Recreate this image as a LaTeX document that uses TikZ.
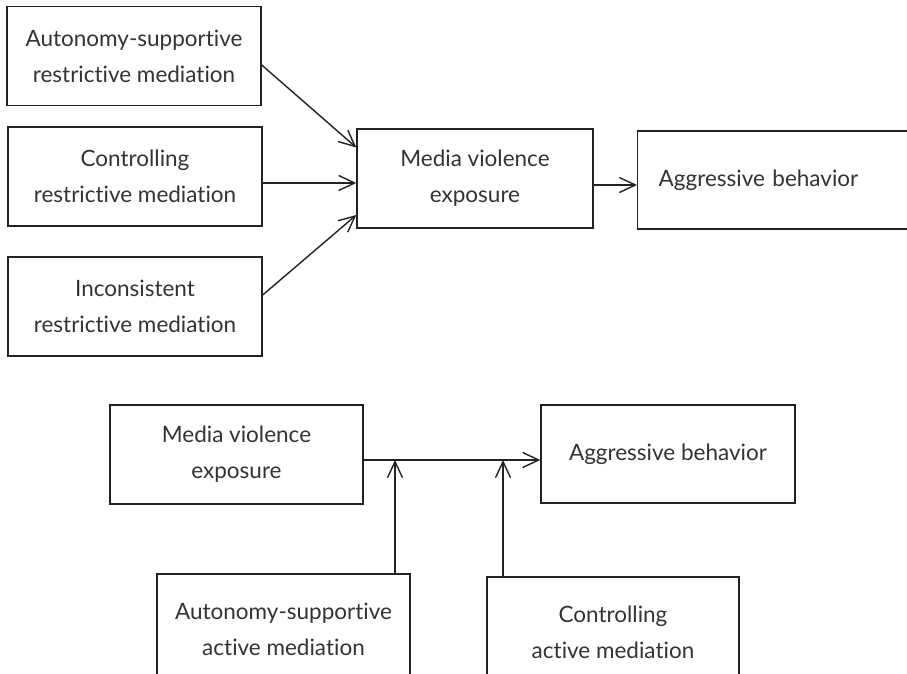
\documentclass[tikz,border=0pt]{standalone}
\usepackage{fontspec}
\setmainfont{Lato}[Ligatures={NoCommon,NoRare}]
\usetikzlibrary{arrows.meta}
\definecolor{ink}{HTML}{222222}
\definecolor{txt}{HTML}{333333}
\tikzset{
  box/.style={draw=ink, line width=1.4pt, align=center, text=txt,
    minimum width=254pt, minimum height=99pt, inner sep=0pt,
    font=\fontsize{22.5}{36}\selectfont},
  arr/.style={draw=ink, line width=1.4pt, -{Straight Barb[length=16pt,width=15pt,line width=1.4pt]}}
}
\begin{document}
\begin{tikzpicture}[x=1pt,y=-1pt]
        \clip (0,0) rectangle (907,674);

        % oberer Teil: restriktive Mediation
        \node[box] (a1) at (134,56) {Autonomy-supportive\\restrictive mediation};
        \node[box] (a2) at (135,176.5) {Controlling\\restrictive mediation};
        \node[box] (a3) at (135,306.5) {Inconsistent\\restrictive mediation};
        \node[box, minimum width=236pt] (mv) at (475,178.5) {Media violence\\exposure};
        \node[box, anchor=west, minimum width=0pt, text width=262pt, align=left,
          inner xsep=21pt, minimum height=98pt] (ag) at (637,180) {Aggressive behavior};

        \draw[arr] ([yshift=-9pt]a1.east) -- ([yshift=31pt]mv.west);
        \draw[arr] ([yshift=-6.5pt]a2.east) -- ([yshift=-4.5pt]mv.west);
        \draw[arr] ([yshift=11.5pt]a3.east) -- ([yshift=-36.5pt]mv.west);
        \draw[arr] ([yshift=-6.5pt]mv.east) -- ([yshift=-5pt]ag.west);

        % unterer Teil: aktive Mediation
        \node[box, minimum width=253pt] (mb) at (236.5,454.5) {Media violence\\exposure};
        \node[box, minimum height=98pt] (ab) at (668,454) {Aggressive behavior};
        \node[box, minimum width=253pt, minimum height=110pt] (as) at (283.5,629) {Autonomy-supportive\\active mediation};
        \node[box, minimum width=252pt, minimum height=110pt] (ca) at (613,632) {Controlling\\active mediation};

        \coordinate (j1) at (395,460);
        \coordinate (j2) at (503,460);

        \draw[arr] ([yshift=-5.5pt]mb.east) -- ([yshift=-6pt]ab.west);
        \draw[arr] (j1 |- as.north) -- (j1);
        \draw[arr] (j2 |- ca.north) -- (j2);
\end{tikzpicture}
\end{document}
